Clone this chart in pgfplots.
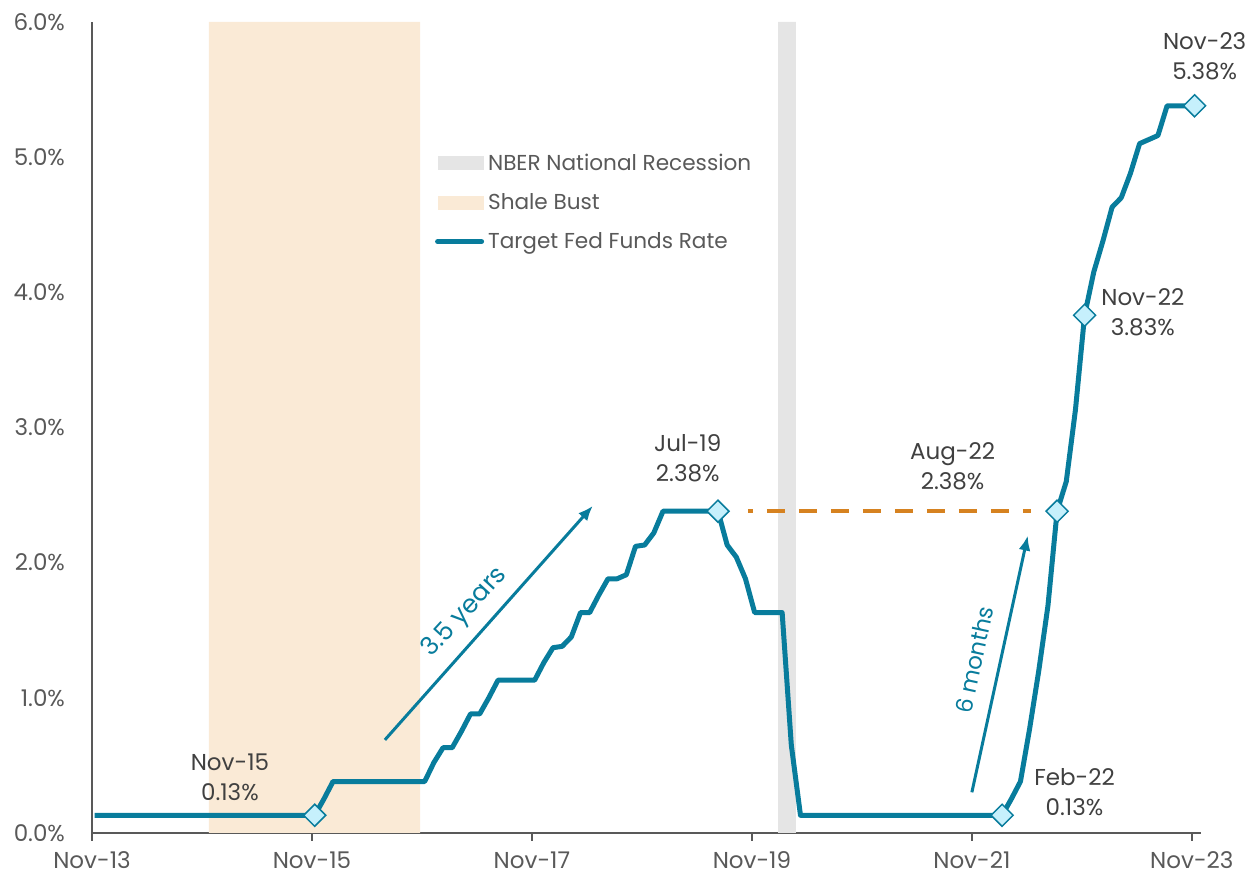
\documentclass[border=0pt]{standalone}
\usepackage{fontspec}
\setmainfont{Poppins}
\usepackage{pgfplots}
\usepackage{pgfplotstable}
\pgfplotsset{compat=1.18}
\usetikzlibrary{arrows.meta}

\definecolor{ffteal}{RGB}{8,124,156}
\definecolor{diafill}{RGB}{198,240,252}
\definecolor{shale}{RGB}{250,234,214}
\definecolor{recgray}{RGB}{229,229,229}
\definecolor{dashorange}{RGB}{214,130,32}
\definecolor{axisgray}{RGB}{89,89,89}
\definecolor{labelgray}{RGB}{89,89,89}
\definecolor{textgray}{RGB}{64,64,64}

% Target fed funds rate, monthly average (month 0 = Nov-13)
\pgfplotstableread{
m r
0 0.13
24 0.13
25 0.25
26 0.38
36 0.38
37 0.52
38 0.63
39 0.63
40 0.75
41 0.88
42 0.88
43 1.00
44 1.13
48 1.13
49 1.26
50 1.37
51 1.38
52 1.45
53 1.63
54 1.63
55 1.76
56 1.88
57 1.88
58 1.91
59 2.12
60 2.13
61 2.22
62 2.38
68 2.38
69 2.13
70 2.04
71 1.88
72 1.63
75 1.63
76 0.65
77 0.13
99 0.13
100 0.25
101 0.38
102 0.77
103 1.20
104 1.68
105 2.38
106 2.60
107 3.13
108 3.83
109 4.15
110 4.38
111 4.63
112 4.70
113 4.88
114 5.10
115 5.13
116 5.16
117 5.38
120 5.38
}\ffrate

% Highlighted months
\pgfplotstableread{
m r
24 0.13
68 2.38
99 0.13
105 2.38
108 3.83
120 5.38
}\ffmarks

\newcommand{\lblfont}{\fontsize{11.5}{15}\selectfont}
\newcommand{\legfont}{\fontsize{10.8}{13}\selectfont}

\begin{document}
\begin{tikzpicture}
\begin{axis}[
  scale only axis,
  width=554.6pt, height=405.5pt,
  xmin=0, xmax=121, ymin=0, ymax=6,
  clip=false,
  axis x line=bottom, axis y line=left,
  axis line style={-, draw=axisgray, line width=1pt},
  xtick={0,24,48,72,96,120},
  xticklabels={Nov-13,Nov-15,Nov-17,Nov-19,Nov-21,Nov-23},
  ytick={0,1,2,3,4,5,6},
  yticklabels={0.0\%,1.0\%,2.0\%,3.0\%,4.0\%,5.0\%,6.0\%},
  tick align=outside,
  xtick style={draw=axisgray, line width=1pt},
  ytick style={draw=none},
  major tick length=4pt,
  xticklabel style={font=\lblfont, text=labelgray, yshift=-2pt},
  yticklabel style={font=\lblfont, text=labelgray, xshift=-6pt},
  legend style={at={(rel axis cs:0.309,0.843)}, anchor=north west,
    draw=none, fill=none, font=\legfont, text=labelgray,
    row sep=6pt, inner sep=0pt},
  legend cell align=left,
]
% shaded periods
\addplot[fill=recgray, draw=none,
  legend image code/.code={\fill[recgray] (0pt,-3.5pt) rectangle (23pt,3.5pt);}]
  coordinates {(74.85,0) (74.85,6) (76.8,6) (76.8,0)} \closedcycle;
\addlegendentry{NBER National Recession}
\addplot[fill=shale, draw=none,
  legend image code/.code={\fill[shale] (0pt,-3.5pt) rectangle (23pt,3.5pt);}]
  coordinates {(12.75,0) (12.75,6) (35.8,6) (35.8,0)} \closedcycle;
\addlegendentry{Shale Bust}

% reference level at 2.38%
\addplot[forget plot, dashorange, line width=2pt,
  dash pattern=on 9pt off 7pt, dash phase=6.5pt]
  coordinates {(71.56,2.38) (102.5,2.38)};

% rate path
\addplot[ffteal, line width=2.5pt, line join=round,
  legend image code/.code={\draw[ffteal, line width=2.5pt, line cap=round] (0pt,0pt) -- (22pt,0pt);}]
  table[x expr=\thisrow{m}+0.3, y=r] {\ffrate};
\addlegendentry{Target Fed Funds Rate}

\addplot[forget plot, only marks, mark=square*, mark size=3.9pt,
  mark options={rotate=45, fill=diafill, draw=ffteal, line width=0.75pt}]
  table[x expr=\thisrow{m}+0.3, y=r] {\ffmarks};

% arrows
\draw[ffteal, line width=1.5pt, -{Latex[length=7.5pt,width=6pt]}]
  (axis cs:31.96,0.688) -- (axis cs:54.65,2.42);
\node[rotate=47.5, text=ffteal, font=\fontsize{12.6}{15}\selectfont] at (axis cs:40.7,1.63) {3.5 years};
\draw[ffteal, line width=1.5pt, -{Latex[length=7.5pt,width=6pt]}]
  (axis cs:96.0,0.30) -- (axis cs:102.1,2.20);
\node[rotate=77.8, text=ffteal, font=\lblfont] at (axis cs:96.3,1.28) {6 months};

% point labels
\node[align=center, text=textgray, font=\lblfont] at (axis cs:15.05,0.41) {Nov-15\\0.13\%};
\node[align=center, text=textgray, font=\lblfont] at (axis cs:65.0,2.77) {Jul-19\\2.38\%};
\node[align=center, text=textgray, font=\lblfont] at (axis cs:93.9,2.71) {Aug-22\\2.38\%};
\node[align=center, text=textgray, font=\lblfont] at (axis cs:114.65,3.85) {Nov-22\\3.83\%};
\node[align=center, text=textgray, font=\lblfont] at (axis cs:121.4,5.75) {Nov-23\\5.38\%};
\node[align=center, text=textgray, font=\lblfont] at (axis cs:107.2,0.30) {Feb-22\\0.13\%};

\coordinate (bl) at (rel axis cs:0,0);
\coordinate (tr) at (rel axis cs:1,1);
\end{axis}
\pgfresetboundingbox
\path (bl) ++(-46pt,-24.5pt) coordinate (BL);
\path (tr) ++(29.5pt,11pt) coordinate (TR);
\useasboundingbox (BL) rectangle (TR);
\end{tikzpicture}
\end{document}
